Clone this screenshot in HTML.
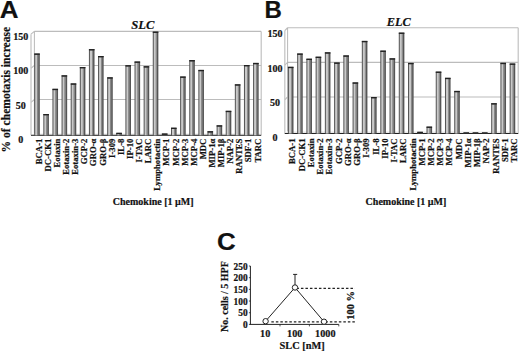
<!DOCTYPE html>
<html><head><meta charset="utf-8"><style>
html,body{margin:0;padding:0;background:#fff;width:520px;height:352px;overflow:hidden;}
svg{display:block;}
text{fill:#111;stroke:#111;stroke-width:0.2px;}
</style></head><body>
<svg width="520" height="352" viewBox="0 0 520 352">
<rect width="520" height="352" fill="#fff"/>
<line x1="34.4" y1="31.40" x2="261.2" y2="31.40" stroke="#bcbcbc" stroke-width="1.1"/>
<line x1="31.0" y1="34.20" x2="34.4" y2="31.40" stroke="#bcbcbc" stroke-width="1.1"/>
<line x1="34.4" y1="65.45" x2="261.2" y2="65.45" stroke="#bcbcbc" stroke-width="1.1"/>
<line x1="31.0" y1="68.25" x2="34.4" y2="65.45" stroke="#bcbcbc" stroke-width="1.1"/>
<line x1="34.4" y1="99.50" x2="261.2" y2="99.50" stroke="#bcbcbc" stroke-width="1.1"/>
<line x1="31.0" y1="102.30" x2="34.4" y2="99.50" stroke="#bcbcbc" stroke-width="1.1"/>
<line x1="34.4" y1="31.4" x2="34.4" y2="133.54999999999998" stroke="#b0b0b0" stroke-width="0.9"/>
<line x1="261.2" y1="31.4" x2="261.2" y2="135.3" stroke="#bcbcbc" stroke-width="1.1"/>
<line x1="31.0" y1="34.199999999999996" x2="31.0" y2="135.3" stroke="#c6c6c6" stroke-width="1.3"/>
<polygon points="31.0,135.3 34.4,133.54999999999998 261.2,133.54999999999998 260.2,135.3" fill="#e8e8e8"/>
<line x1="31.0" y1="135.30" x2="261.2" y2="135.30" stroke="#222" stroke-width="1"/>
<rect x="34.20" y="53.50" width="5.6" height="81.80" fill="#555"/>
<rect x="35.20" y="54.80" width="2.1" height="80.50" fill="#c9c9c9"/>
<rect x="37.30" y="54.80" width="1.1" height="80.50" fill="#8e8e8e"/>
<rect x="34.20" y="53.50" width="5.6" height="1.3" fill="#222"/>
<rect x="43.32" y="114.00" width="5.6" height="21.30" fill="#555"/>
<rect x="44.32" y="115.30" width="2.1" height="20.00" fill="#c9c9c9"/>
<rect x="46.42" y="115.30" width="1.1" height="20.00" fill="#8e8e8e"/>
<rect x="43.32" y="114.00" width="5.6" height="1.3" fill="#222"/>
<rect x="52.44" y="88.80" width="5.6" height="46.50" fill="#555"/>
<rect x="53.44" y="90.10" width="2.1" height="45.20" fill="#c9c9c9"/>
<rect x="55.54" y="90.10" width="1.1" height="45.20" fill="#8e8e8e"/>
<rect x="52.44" y="88.80" width="5.6" height="1.3" fill="#222"/>
<rect x="61.56" y="75.30" width="5.6" height="60.00" fill="#555"/>
<rect x="62.56" y="76.60" width="2.1" height="58.70" fill="#c9c9c9"/>
<rect x="64.66" y="76.60" width="1.1" height="58.70" fill="#8e8e8e"/>
<rect x="61.56" y="75.30" width="5.6" height="1.3" fill="#222"/>
<rect x="70.68" y="83.40" width="5.6" height="51.90" fill="#555"/>
<rect x="71.68" y="84.70" width="2.1" height="50.60" fill="#c9c9c9"/>
<rect x="73.78" y="84.70" width="1.1" height="50.60" fill="#8e8e8e"/>
<rect x="70.68" y="83.40" width="5.6" height="1.3" fill="#222"/>
<rect x="79.80" y="67.00" width="5.6" height="68.30" fill="#555"/>
<rect x="80.80" y="68.30" width="2.1" height="67.00" fill="#c9c9c9"/>
<rect x="82.90" y="68.30" width="1.1" height="67.00" fill="#8e8e8e"/>
<rect x="79.80" y="67.00" width="5.6" height="1.3" fill="#222"/>
<rect x="88.92" y="49.10" width="5.6" height="86.20" fill="#555"/>
<rect x="89.92" y="50.40" width="2.1" height="84.90" fill="#c9c9c9"/>
<rect x="92.02" y="50.40" width="1.1" height="84.90" fill="#8e8e8e"/>
<rect x="88.92" y="49.10" width="5.6" height="1.3" fill="#222"/>
<rect x="98.04" y="56.00" width="5.6" height="79.30" fill="#555"/>
<rect x="99.04" y="57.30" width="2.1" height="78.00" fill="#c9c9c9"/>
<rect x="101.14" y="57.30" width="1.1" height="78.00" fill="#8e8e8e"/>
<rect x="98.04" y="56.00" width="5.6" height="1.3" fill="#222"/>
<rect x="107.16" y="77.30" width="5.6" height="58.00" fill="#555"/>
<rect x="108.16" y="78.60" width="2.1" height="56.70" fill="#c9c9c9"/>
<rect x="110.26" y="78.60" width="1.1" height="56.70" fill="#8e8e8e"/>
<rect x="107.16" y="77.30" width="5.6" height="1.3" fill="#222"/>
<rect x="116.28" y="132.80" width="5.6" height="2.50" fill="#555"/>
<rect x="117.28" y="134.10" width="2.1" height="1.20" fill="#c9c9c9"/>
<rect x="119.38" y="134.10" width="1.1" height="1.20" fill="#8e8e8e"/>
<rect x="116.28" y="132.80" width="5.6" height="1.3" fill="#222"/>
<rect x="125.40" y="65.20" width="5.6" height="70.10" fill="#555"/>
<rect x="126.40" y="66.50" width="2.1" height="68.80" fill="#c9c9c9"/>
<rect x="128.50" y="66.50" width="1.1" height="68.80" fill="#8e8e8e"/>
<rect x="125.40" y="65.20" width="5.6" height="1.3" fill="#222"/>
<rect x="134.52" y="61.50" width="5.6" height="73.80" fill="#555"/>
<rect x="135.52" y="62.80" width="2.1" height="72.50" fill="#c9c9c9"/>
<rect x="137.62" y="62.80" width="1.1" height="72.50" fill="#8e8e8e"/>
<rect x="134.52" y="61.50" width="5.6" height="1.3" fill="#222"/>
<rect x="143.64" y="66.20" width="5.6" height="69.10" fill="#555"/>
<rect x="144.64" y="67.50" width="2.1" height="67.80" fill="#c9c9c9"/>
<rect x="146.74" y="67.50" width="1.1" height="67.80" fill="#8e8e8e"/>
<rect x="143.64" y="66.20" width="5.6" height="1.3" fill="#222"/>
<rect x="152.76" y="31.60" width="5.6" height="103.70" fill="#555"/>
<rect x="153.76" y="32.90" width="2.1" height="102.40" fill="#c9c9c9"/>
<rect x="155.86" y="32.90" width="1.1" height="102.40" fill="#8e8e8e"/>
<rect x="152.76" y="31.60" width="5.6" height="1.3" fill="#222"/>
<rect x="161.88" y="133.50" width="5.6" height="1.80" fill="#555"/>
<rect x="161.88" y="133.50" width="5.6" height="1.3" fill="#222"/>
<rect x="171.00" y="127.70" width="5.6" height="7.60" fill="#555"/>
<rect x="172.00" y="129.00" width="2.1" height="6.30" fill="#c9c9c9"/>
<rect x="174.10" y="129.00" width="1.1" height="6.30" fill="#8e8e8e"/>
<rect x="171.00" y="127.70" width="5.6" height="1.3" fill="#222"/>
<rect x="180.12" y="76.50" width="5.6" height="58.80" fill="#555"/>
<rect x="181.12" y="77.80" width="2.1" height="57.50" fill="#c9c9c9"/>
<rect x="183.22" y="77.80" width="1.1" height="57.50" fill="#8e8e8e"/>
<rect x="180.12" y="76.50" width="5.6" height="1.3" fill="#222"/>
<rect x="189.24" y="60.10" width="5.6" height="75.20" fill="#555"/>
<rect x="190.24" y="61.40" width="2.1" height="73.90" fill="#c9c9c9"/>
<rect x="192.34" y="61.40" width="1.1" height="73.90" fill="#8e8e8e"/>
<rect x="189.24" y="60.10" width="5.6" height="1.3" fill="#222"/>
<rect x="198.36" y="69.90" width="5.6" height="65.40" fill="#555"/>
<rect x="199.36" y="71.20" width="2.1" height="64.10" fill="#c9c9c9"/>
<rect x="201.46" y="71.20" width="1.1" height="64.10" fill="#8e8e8e"/>
<rect x="198.36" y="69.90" width="5.6" height="1.3" fill="#222"/>
<rect x="207.48" y="131.20" width="5.6" height="4.10" fill="#555"/>
<rect x="208.48" y="132.50" width="2.1" height="2.80" fill="#c9c9c9"/>
<rect x="210.58" y="132.50" width="1.1" height="2.80" fill="#8e8e8e"/>
<rect x="207.48" y="131.20" width="5.6" height="1.3" fill="#222"/>
<rect x="216.60" y="125.30" width="5.6" height="10.00" fill="#555"/>
<rect x="217.60" y="126.60" width="2.1" height="8.70" fill="#c9c9c9"/>
<rect x="219.70" y="126.60" width="1.1" height="8.70" fill="#8e8e8e"/>
<rect x="216.60" y="125.30" width="5.6" height="1.3" fill="#222"/>
<rect x="225.72" y="110.80" width="5.6" height="24.50" fill="#555"/>
<rect x="226.72" y="112.10" width="2.1" height="23.20" fill="#c9c9c9"/>
<rect x="228.82" y="112.10" width="1.1" height="23.20" fill="#8e8e8e"/>
<rect x="225.72" y="110.80" width="5.6" height="1.3" fill="#222"/>
<rect x="234.84" y="84.30" width="5.6" height="51.00" fill="#555"/>
<rect x="235.84" y="85.60" width="2.1" height="49.70" fill="#c9c9c9"/>
<rect x="237.94" y="85.60" width="1.1" height="49.70" fill="#8e8e8e"/>
<rect x="234.84" y="84.30" width="5.6" height="1.3" fill="#222"/>
<rect x="243.96" y="65.00" width="5.6" height="70.30" fill="#555"/>
<rect x="244.96" y="66.30" width="2.1" height="69.00" fill="#c9c9c9"/>
<rect x="247.06" y="66.30" width="1.1" height="69.00" fill="#8e8e8e"/>
<rect x="243.96" y="65.00" width="5.6" height="1.3" fill="#222"/>
<rect x="253.08" y="62.90" width="5.6" height="72.40" fill="#555"/>
<rect x="254.08" y="64.20" width="2.1" height="71.10" fill="#c9c9c9"/>
<rect x="256.18" y="64.20" width="1.1" height="71.10" fill="#8e8e8e"/>
<rect x="253.08" y="62.90" width="5.6" height="1.3" fill="#222"/>
<text x="20.7" y="40.30" text-anchor="middle" font-size="10" font-weight="bold" font-family="'Liberation Serif', serif">150</text>
<text x="20.7" y="74.40" text-anchor="middle" font-size="10" font-weight="bold" font-family="'Liberation Serif', serif">100</text>
<text x="20.7" y="108.50" text-anchor="middle" font-size="10" font-weight="bold" font-family="'Liberation Serif', serif">50</text>
<text x="20.7" y="142.60" text-anchor="middle" font-size="10" font-weight="bold" font-family="'Liberation Serif', serif">0</text>
<text transform="translate(41.70,138.6) rotate(-90)" text-anchor="end" font-size="8.7" font-weight="bold" font-family="'Liberation Serif', serif">BCA-1</text>
<text transform="translate(50.82,138.6) rotate(-90)" text-anchor="end" font-size="8.7" font-weight="bold" font-family="'Liberation Serif', serif">DC-CK1</text>
<text transform="translate(59.94,138.6) rotate(-90)" text-anchor="end" font-size="8.7" font-weight="bold" font-family="'Liberation Serif', serif">Eotaxin</text>
<text transform="translate(69.06,138.6) rotate(-90)" text-anchor="end" font-size="8.7" font-weight="bold" font-family="'Liberation Serif', serif">Eotaxin-2</text>
<text transform="translate(78.18,138.6) rotate(-90)" text-anchor="end" font-size="8.7" font-weight="bold" font-family="'Liberation Serif', serif">Eotaxin-3</text>
<text transform="translate(87.30,138.6) rotate(-90)" text-anchor="end" font-size="8.7" font-weight="bold" font-family="'Liberation Serif', serif">GCP-2</text>
<text transform="translate(96.42,138.6) rotate(-90)" text-anchor="end" font-size="8.7" font-weight="bold" font-family="'Liberation Serif', serif">GRO-α</text>
<text transform="translate(105.54,138.6) rotate(-90)" text-anchor="end" font-size="8.7" font-weight="bold" font-family="'Liberation Serif', serif">GRO-β</text>
<text transform="translate(114.66,138.6) rotate(-90)" text-anchor="end" font-size="8.7" font-weight="bold" font-family="'Liberation Serif', serif">I-309</text>
<text transform="translate(123.78,138.6) rotate(-90)" text-anchor="end" font-size="8.7" font-weight="bold" font-family="'Liberation Serif', serif">IL-8</text>
<text transform="translate(132.90,138.6) rotate(-90)" text-anchor="end" font-size="8.7" font-weight="bold" font-family="'Liberation Serif', serif">IP-10</text>
<text transform="translate(142.02,138.6) rotate(-90)" text-anchor="end" font-size="8.7" font-weight="bold" font-family="'Liberation Serif', serif">I-TAC</text>
<text transform="translate(151.14,138.6) rotate(-90)" text-anchor="end" font-size="8.7" font-weight="bold" font-family="'Liberation Serif', serif">LARC</text>
<text transform="translate(160.26,138.6) rotate(-90)" text-anchor="end" font-size="8.7" font-weight="bold" font-family="'Liberation Serif', serif">Lymphotactin</text>
<text transform="translate(169.38,138.6) rotate(-90)" text-anchor="end" font-size="8.7" font-weight="bold" font-family="'Liberation Serif', serif">MCP-1</text>
<text transform="translate(178.50,138.6) rotate(-90)" text-anchor="end" font-size="8.7" font-weight="bold" font-family="'Liberation Serif', serif">MCP-2</text>
<text transform="translate(187.62,138.6) rotate(-90)" text-anchor="end" font-size="8.7" font-weight="bold" font-family="'Liberation Serif', serif">MCP-3</text>
<text transform="translate(196.74,138.6) rotate(-90)" text-anchor="end" font-size="8.7" font-weight="bold" font-family="'Liberation Serif', serif">MCP-4</text>
<text transform="translate(205.86,138.6) rotate(-90)" text-anchor="end" font-size="8.7" font-weight="bold" font-family="'Liberation Serif', serif">MDC</text>
<text transform="translate(214.98,138.6) rotate(-90)" text-anchor="end" font-size="8.7" font-weight="bold" font-family="'Liberation Serif', serif">MIP-1α</text>
<text transform="translate(224.10,138.6) rotate(-90)" text-anchor="end" font-size="8.7" font-weight="bold" font-family="'Liberation Serif', serif">MIP-1β</text>
<text transform="translate(233.22,138.6) rotate(-90)" text-anchor="end" font-size="8.7" font-weight="bold" font-family="'Liberation Serif', serif">NAP-2</text>
<text transform="translate(242.34,138.6) rotate(-90)" text-anchor="end" font-size="8.7" font-weight="bold" font-family="'Liberation Serif', serif">RANTES</text>
<text transform="translate(251.46,138.6) rotate(-90)" text-anchor="end" font-size="8.7" font-weight="bold" font-family="'Liberation Serif', serif">SDF-1</text>
<text transform="translate(260.58,138.6) rotate(-90)" text-anchor="end" font-size="8.7" font-weight="bold" font-family="'Liberation Serif', serif">TARC</text>
<text x="131.2" y="28.6" font-size="12.6" font-weight="bold" font-style="italic" font-family="'Liberation Serif', serif">SLC</text>
<text x="112.8" y="204.6" font-size="10" font-weight="bold" font-family="'Liberation Serif', serif">Chemokine [1 µM]</text>
<text transform="translate(-0.3,17.6) scale(1.084,1)" font-size="24" font-weight="bold" font-family="'Liberation Sans', sans-serif">A</text>
<line x1="287.6" y1="27.75" x2="518.2" y2="27.75" stroke="#bcbcbc" stroke-width="1.1"/>
<line x1="284.8" y1="30.55" x2="287.6" y2="27.75" stroke="#bcbcbc" stroke-width="1.1"/>
<line x1="287.6" y1="62.35" x2="518.2" y2="62.35" stroke="#bcbcbc" stroke-width="1.1"/>
<line x1="284.8" y1="65.15" x2="287.6" y2="62.35" stroke="#bcbcbc" stroke-width="1.1"/>
<line x1="287.6" y1="96.95" x2="518.2" y2="96.95" stroke="#bcbcbc" stroke-width="1.1"/>
<line x1="284.8" y1="99.75" x2="287.6" y2="96.95" stroke="#bcbcbc" stroke-width="1.1"/>
<line x1="287.6" y1="27.75" x2="287.6" y2="131.55" stroke="#b0b0b0" stroke-width="0.9"/>
<line x1="518.2" y1="27.75" x2="518.2" y2="133.5" stroke="#bcbcbc" stroke-width="1.1"/>
<line x1="284.8" y1="30.55" x2="284.8" y2="133.5" stroke="#c6c6c6" stroke-width="1.3"/>
<polygon points="284.8,133.5 287.6,131.55 518.2,131.55 517.2,133.5" fill="#e8e8e8"/>
<line x1="284.8" y1="133.50" x2="518.2" y2="133.50" stroke="#222" stroke-width="1"/>
<rect x="287.90" y="66.80" width="5.6" height="66.70" fill="#555"/>
<rect x="288.90" y="68.10" width="2.1" height="65.40" fill="#c9c9c9"/>
<rect x="291.00" y="68.10" width="1.1" height="65.40" fill="#8e8e8e"/>
<rect x="287.90" y="66.80" width="5.6" height="1.3" fill="#222"/>
<rect x="297.14" y="53.50" width="5.6" height="80.00" fill="#555"/>
<rect x="298.14" y="54.80" width="2.1" height="78.70" fill="#c9c9c9"/>
<rect x="300.24" y="54.80" width="1.1" height="78.70" fill="#8e8e8e"/>
<rect x="297.14" y="53.50" width="5.6" height="1.3" fill="#222"/>
<rect x="306.38" y="58.70" width="5.6" height="74.80" fill="#555"/>
<rect x="307.38" y="60.00" width="2.1" height="73.50" fill="#c9c9c9"/>
<rect x="309.48" y="60.00" width="1.1" height="73.50" fill="#8e8e8e"/>
<rect x="306.38" y="58.70" width="5.6" height="1.3" fill="#222"/>
<rect x="315.62" y="56.70" width="5.6" height="76.80" fill="#555"/>
<rect x="316.62" y="58.00" width="2.1" height="75.50" fill="#c9c9c9"/>
<rect x="318.72" y="58.00" width="1.1" height="75.50" fill="#8e8e8e"/>
<rect x="315.62" y="56.70" width="5.6" height="1.3" fill="#222"/>
<rect x="324.86" y="52.30" width="5.6" height="81.20" fill="#555"/>
<rect x="325.86" y="53.60" width="2.1" height="79.90" fill="#c9c9c9"/>
<rect x="327.96" y="53.60" width="1.1" height="79.90" fill="#8e8e8e"/>
<rect x="324.86" y="52.30" width="5.6" height="1.3" fill="#222"/>
<rect x="334.10" y="62.50" width="5.6" height="71.00" fill="#555"/>
<rect x="335.10" y="63.80" width="2.1" height="69.70" fill="#c9c9c9"/>
<rect x="337.20" y="63.80" width="1.1" height="69.70" fill="#8e8e8e"/>
<rect x="334.10" y="62.50" width="5.6" height="1.3" fill="#222"/>
<rect x="343.34" y="55.40" width="5.6" height="78.10" fill="#555"/>
<rect x="344.34" y="56.70" width="2.1" height="76.80" fill="#c9c9c9"/>
<rect x="346.44" y="56.70" width="1.1" height="76.80" fill="#8e8e8e"/>
<rect x="343.34" y="55.40" width="5.6" height="1.3" fill="#222"/>
<rect x="352.58" y="82.40" width="5.6" height="51.10" fill="#555"/>
<rect x="353.58" y="83.70" width="2.1" height="49.80" fill="#c9c9c9"/>
<rect x="355.68" y="83.70" width="1.1" height="49.80" fill="#8e8e8e"/>
<rect x="352.58" y="82.40" width="5.6" height="1.3" fill="#222"/>
<rect x="361.82" y="40.90" width="5.6" height="92.60" fill="#555"/>
<rect x="362.82" y="42.20" width="2.1" height="91.30" fill="#c9c9c9"/>
<rect x="364.92" y="42.20" width="1.1" height="91.30" fill="#8e8e8e"/>
<rect x="361.82" y="40.90" width="5.6" height="1.3" fill="#222"/>
<rect x="371.06" y="97.00" width="5.6" height="36.50" fill="#555"/>
<rect x="372.06" y="98.30" width="2.1" height="35.20" fill="#c9c9c9"/>
<rect x="374.16" y="98.30" width="1.1" height="35.20" fill="#8e8e8e"/>
<rect x="371.06" y="97.00" width="5.6" height="1.3" fill="#222"/>
<rect x="380.30" y="50.60" width="5.6" height="82.90" fill="#555"/>
<rect x="381.30" y="51.90" width="2.1" height="81.60" fill="#c9c9c9"/>
<rect x="383.40" y="51.90" width="1.1" height="81.60" fill="#8e8e8e"/>
<rect x="380.30" y="50.60" width="5.6" height="1.3" fill="#222"/>
<rect x="389.54" y="58.30" width="5.6" height="75.20" fill="#555"/>
<rect x="390.54" y="59.60" width="2.1" height="73.90" fill="#c9c9c9"/>
<rect x="392.64" y="59.60" width="1.1" height="73.90" fill="#8e8e8e"/>
<rect x="389.54" y="58.30" width="5.6" height="1.3" fill="#222"/>
<rect x="398.78" y="32.60" width="5.6" height="100.90" fill="#555"/>
<rect x="399.78" y="33.90" width="2.1" height="99.60" fill="#c9c9c9"/>
<rect x="401.88" y="33.90" width="1.1" height="99.60" fill="#8e8e8e"/>
<rect x="398.78" y="32.60" width="5.6" height="1.3" fill="#222"/>
<rect x="408.02" y="62.90" width="5.6" height="70.60" fill="#555"/>
<rect x="409.02" y="64.20" width="2.1" height="69.30" fill="#c9c9c9"/>
<rect x="411.12" y="64.20" width="1.1" height="69.30" fill="#8e8e8e"/>
<rect x="408.02" y="62.90" width="5.6" height="1.3" fill="#222"/>
<rect x="417.26" y="131.80" width="5.6" height="1.70" fill="#555"/>
<rect x="417.26" y="131.80" width="5.6" height="1.3" fill="#222"/>
<rect x="426.50" y="126.60" width="5.6" height="6.90" fill="#555"/>
<rect x="427.50" y="127.90" width="2.1" height="5.60" fill="#c9c9c9"/>
<rect x="429.60" y="127.90" width="1.1" height="5.60" fill="#8e8e8e"/>
<rect x="426.50" y="126.60" width="5.6" height="1.3" fill="#222"/>
<rect x="435.74" y="71.60" width="5.6" height="61.90" fill="#555"/>
<rect x="436.74" y="72.90" width="2.1" height="60.60" fill="#c9c9c9"/>
<rect x="438.84" y="72.90" width="1.1" height="60.60" fill="#8e8e8e"/>
<rect x="435.74" y="71.60" width="5.6" height="1.3" fill="#222"/>
<rect x="444.98" y="77.80" width="5.6" height="55.70" fill="#555"/>
<rect x="445.98" y="79.10" width="2.1" height="54.40" fill="#c9c9c9"/>
<rect x="448.08" y="79.10" width="1.1" height="54.40" fill="#8e8e8e"/>
<rect x="444.98" y="77.80" width="5.6" height="1.3" fill="#222"/>
<rect x="454.22" y="90.90" width="5.6" height="42.60" fill="#555"/>
<rect x="455.22" y="92.20" width="2.1" height="41.30" fill="#c9c9c9"/>
<rect x="457.32" y="92.20" width="1.1" height="41.30" fill="#8e8e8e"/>
<rect x="454.22" y="90.90" width="5.6" height="1.3" fill="#222"/>
<rect x="463.46" y="132.40" width="5.6" height="1.10" fill="#555"/>
<rect x="463.46" y="132.40" width="5.6" height="1.3" fill="#222"/>
<rect x="472.70" y="132.40" width="5.6" height="1.10" fill="#555"/>
<rect x="472.70" y="132.40" width="5.6" height="1.3" fill="#222"/>
<rect x="481.94" y="132.40" width="5.6" height="1.10" fill="#555"/>
<rect x="481.94" y="132.40" width="5.6" height="1.3" fill="#222"/>
<rect x="491.18" y="103.20" width="5.6" height="30.30" fill="#555"/>
<rect x="492.18" y="104.50" width="2.1" height="29.00" fill="#c9c9c9"/>
<rect x="494.28" y="104.50" width="1.1" height="29.00" fill="#8e8e8e"/>
<rect x="491.18" y="103.20" width="5.6" height="1.3" fill="#222"/>
<rect x="500.42" y="62.80" width="5.6" height="70.70" fill="#555"/>
<rect x="501.42" y="64.10" width="2.1" height="69.40" fill="#c9c9c9"/>
<rect x="503.52" y="64.10" width="1.1" height="69.40" fill="#8e8e8e"/>
<rect x="500.42" y="62.80" width="5.6" height="1.3" fill="#222"/>
<rect x="509.66" y="63.50" width="5.6" height="70.00" fill="#555"/>
<rect x="510.66" y="64.80" width="2.1" height="68.70" fill="#c9c9c9"/>
<rect x="512.76" y="64.80" width="1.1" height="68.70" fill="#8e8e8e"/>
<rect x="509.66" y="63.50" width="5.6" height="1.3" fill="#222"/>
<text x="275.0" y="36.90" text-anchor="middle" font-size="10" font-weight="bold" font-family="'Liberation Serif', serif">150</text>
<text x="275.0" y="71.55" text-anchor="middle" font-size="10" font-weight="bold" font-family="'Liberation Serif', serif">100</text>
<text x="275.0" y="106.20" text-anchor="middle" font-size="10" font-weight="bold" font-family="'Liberation Serif', serif">50</text>
<text x="275.0" y="140.85" text-anchor="middle" font-size="10" font-weight="bold" font-family="'Liberation Serif', serif">0</text>
<text transform="translate(295.40,138.4) rotate(-90)" text-anchor="end" font-size="8.7" font-weight="bold" font-family="'Liberation Serif', serif">BCA-1</text>
<text transform="translate(304.64,138.4) rotate(-90)" text-anchor="end" font-size="8.7" font-weight="bold" font-family="'Liberation Serif', serif">DC-CK1</text>
<text transform="translate(313.88,138.4) rotate(-90)" text-anchor="end" font-size="8.7" font-weight="bold" font-family="'Liberation Serif', serif">Eotaxin</text>
<text transform="translate(323.12,138.4) rotate(-90)" text-anchor="end" font-size="8.7" font-weight="bold" font-family="'Liberation Serif', serif">Eotaxin-2</text>
<text transform="translate(332.36,138.4) rotate(-90)" text-anchor="end" font-size="8.7" font-weight="bold" font-family="'Liberation Serif', serif">Eotaxin-3</text>
<text transform="translate(341.60,138.4) rotate(-90)" text-anchor="end" font-size="8.7" font-weight="bold" font-family="'Liberation Serif', serif">GCP-2</text>
<text transform="translate(350.84,138.4) rotate(-90)" text-anchor="end" font-size="8.7" font-weight="bold" font-family="'Liberation Serif', serif">GRO-α</text>
<text transform="translate(360.08,138.4) rotate(-90)" text-anchor="end" font-size="8.7" font-weight="bold" font-family="'Liberation Serif', serif">GRO-β</text>
<text transform="translate(369.32,138.4) rotate(-90)" text-anchor="end" font-size="8.7" font-weight="bold" font-family="'Liberation Serif', serif">I-309</text>
<text transform="translate(378.56,138.4) rotate(-90)" text-anchor="end" font-size="8.7" font-weight="bold" font-family="'Liberation Serif', serif">IL-8</text>
<text transform="translate(387.80,138.4) rotate(-90)" text-anchor="end" font-size="8.7" font-weight="bold" font-family="'Liberation Serif', serif">IP-10</text>
<text transform="translate(397.04,138.4) rotate(-90)" text-anchor="end" font-size="8.7" font-weight="bold" font-family="'Liberation Serif', serif">I-TAC</text>
<text transform="translate(406.28,138.4) rotate(-90)" text-anchor="end" font-size="8.7" font-weight="bold" font-family="'Liberation Serif', serif">LARC</text>
<text transform="translate(415.52,138.4) rotate(-90)" text-anchor="end" font-size="8.7" font-weight="bold" font-family="'Liberation Serif', serif">Lymphotactin</text>
<text transform="translate(424.76,138.4) rotate(-90)" text-anchor="end" font-size="8.7" font-weight="bold" font-family="'Liberation Serif', serif">MCP-1</text>
<text transform="translate(434.00,138.4) rotate(-90)" text-anchor="end" font-size="8.7" font-weight="bold" font-family="'Liberation Serif', serif">MCP-2</text>
<text transform="translate(443.24,138.4) rotate(-90)" text-anchor="end" font-size="8.7" font-weight="bold" font-family="'Liberation Serif', serif">MCP-3</text>
<text transform="translate(452.48,138.4) rotate(-90)" text-anchor="end" font-size="8.7" font-weight="bold" font-family="'Liberation Serif', serif">MCP-4</text>
<text transform="translate(461.72,138.4) rotate(-90)" text-anchor="end" font-size="8.7" font-weight="bold" font-family="'Liberation Serif', serif">MDC</text>
<text transform="translate(470.96,138.4) rotate(-90)" text-anchor="end" font-size="8.7" font-weight="bold" font-family="'Liberation Serif', serif">MIP-1α</text>
<text transform="translate(480.20,138.4) rotate(-90)" text-anchor="end" font-size="8.7" font-weight="bold" font-family="'Liberation Serif', serif">MIP-1β</text>
<text transform="translate(489.44,138.4) rotate(-90)" text-anchor="end" font-size="8.7" font-weight="bold" font-family="'Liberation Serif', serif">NAP-2</text>
<text transform="translate(498.68,138.4) rotate(-90)" text-anchor="end" font-size="8.7" font-weight="bold" font-family="'Liberation Serif', serif">RANTES</text>
<text transform="translate(507.92,138.4) rotate(-90)" text-anchor="end" font-size="8.7" font-weight="bold" font-family="'Liberation Serif', serif">SDF-1</text>
<text transform="translate(517.16,138.4) rotate(-90)" text-anchor="end" font-size="8.7" font-weight="bold" font-family="'Liberation Serif', serif">TARC</text>
<text x="386.7" y="25.9" font-size="12.3" font-weight="bold" font-style="italic" font-family="'Liberation Serif', serif">ELC</text>
<text x="365.6" y="204.6" font-size="10" font-weight="bold" font-family="'Liberation Serif', serif">Chemokine [1 µM]</text>
<text transform="translate(264.4,17.8) scale(1.0,1)" font-size="24" font-weight="bold" font-family="'Liberation Sans', sans-serif">B</text>
<text transform="translate(9.8,152.5) rotate(-90)" font-size="11.6" font-weight="bold" font-family="'Liberation Serif', serif">% of chemotaxis increase</text>
<line x1="250.4" y1="266.00" x2="250.4" y2="324.4" stroke="#222" stroke-width="1"/>
<line x1="249.9" y1="324.4" x2="338.8" y2="324.4" stroke="#222" stroke-width="1"/>
<line x1="248.9" y1="324.40" x2="250.4" y2="324.40" stroke="#222" stroke-width="0.8"/>
<text x="247.6" y="327.90" text-anchor="end" font-size="9.4" font-weight="bold" font-family="'Liberation Serif', serif">0</text>
<line x1="248.9" y1="312.72" x2="250.4" y2="312.72" stroke="#222" stroke-width="0.8"/>
<text x="247.6" y="316.22" text-anchor="end" font-size="9.4" font-weight="bold" font-family="'Liberation Serif', serif">50</text>
<line x1="248.9" y1="301.04" x2="250.4" y2="301.04" stroke="#222" stroke-width="0.8"/>
<text x="247.6" y="304.54" text-anchor="end" font-size="9.4" font-weight="bold" font-family="'Liberation Serif', serif">100</text>
<line x1="248.9" y1="289.36" x2="250.4" y2="289.36" stroke="#222" stroke-width="0.8"/>
<text x="247.6" y="292.86" text-anchor="end" font-size="9.4" font-weight="bold" font-family="'Liberation Serif', serif">150</text>
<line x1="248.9" y1="277.68" x2="250.4" y2="277.68" stroke="#222" stroke-width="0.8"/>
<text x="247.6" y="281.18" text-anchor="end" font-size="9.4" font-weight="bold" font-family="'Liberation Serif', serif">200</text>
<line x1="248.9" y1="266.00" x2="250.4" y2="266.00" stroke="#222" stroke-width="0.8"/>
<text x="247.6" y="269.50" text-anchor="end" font-size="9.4" font-weight="bold" font-family="'Liberation Serif', serif">250</text>
<line x1="280.0" y1="324.4" x2="280.0" y2="326.4" stroke="#222" stroke-width="0.8"/>
<line x1="309.4" y1="324.4" x2="309.4" y2="326.4" stroke="#222" stroke-width="0.8"/>
<line x1="338.8" y1="324.4" x2="338.8" y2="326.4" stroke="#222" stroke-width="0.8"/>
<text x="265.2" y="337" text-anchor="middle" font-size="10.2" font-weight="bold" font-family="'Liberation Serif', serif">10</text>
<text x="294.7" y="337" text-anchor="middle" font-size="10.2" font-weight="bold" font-family="'Liberation Serif', serif">100</text>
<text x="325.3" y="337" text-anchor="middle" font-size="10.2" font-weight="bold" font-family="'Liberation Serif', serif">1000</text>
<text x="279.6" y="348.6" font-size="10.35" font-weight="bold" font-family="'Liberation Serif', serif">SLC [nM]</text>
<text transform="translate(227.6,332) rotate(-90)" font-size="10" font-weight="bold" font-family="'Liberation Serif', serif">No. cells / 5 HPF</text>
<text transform="translate(353.5,319.7) rotate(-90)" font-size="10.4" font-weight="bold" font-family="'Liberation Serif', serif">100 %</text>
<line x1="296.45" y1="288.4" x2="355" y2="288.4" stroke="#222" stroke-width="1.2" stroke-dasharray="2.5,2"/>
<line x1="271.35" y1="321.85" x2="356" y2="321.85" stroke="#222" stroke-width="1.2" stroke-dasharray="2.5,2"/>
<line x1="295" y1="274.4" x2="295" y2="285" stroke="#222" stroke-width="1"/>
<line x1="293.1" y1="274.4" x2="297.2" y2="274.4" stroke="#222" stroke-width="1"/>
<polyline points="265.6,321.2 295,287.5 324,321.7" fill="none" stroke="#222" stroke-width="1"/>
<circle cx="265.6" cy="321.2" r="2.7" fill="#fff" stroke="#222" stroke-width="1"/>
<circle cx="295" cy="287.5" r="2.7" fill="#fff" stroke="#222" stroke-width="1"/>
<circle cx="324" cy="321.7" r="2.7" fill="#fff" stroke="#222" stroke-width="1"/>
<text transform="translate(216.9,249.9) scale(1.08,1)" font-size="24" font-weight="bold" font-family="'Liberation Sans', sans-serif">C</text>
</svg>
</body></html>
